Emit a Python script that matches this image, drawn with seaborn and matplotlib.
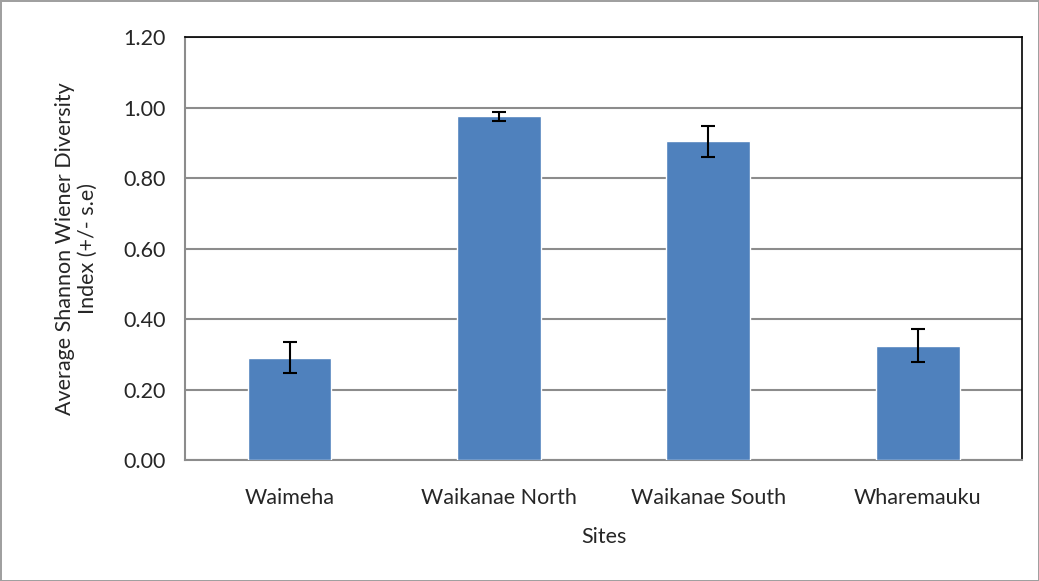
import numpy as np
import pandas as pd
import matplotlib
matplotlib.use("Agg")
import matplotlib.pyplot as plt
import seaborn as sns

# data
sites = ["Waimeha", "Waikanae North", "Waikanae South", "Wharemauku"]
mean_diversity = [0.290, 0.975, 0.905, 0.325]
std_error = [0.044, 0.013, 0.044, 0.047]

df = pd.DataFrame({"Sites": sites, "Diversity": mean_diversity})

sns.set_style("white")
plt.rcParams["font.family"] = ["Lato", "DejaVu Sans"]

fig = plt.figure(figsize=(10.39, 5.81), dpi=100)
ax = fig.add_axes([0.178, 0.208, 0.806, 0.728])

# outer chart-area border
fig.patch.set_edgecolor("#a0a0a0")
fig.patch.set_linewidth(2)

sns.barplot(data=df, x="Sites", y="Diversity", color="#4F81BD", saturation=1,
            width=0.4, errorbar=None, ax=ax, zorder=3)
ax.errorbar(np.arange(len(sites)), mean_diversity, yerr=std_error, fmt="none",
            ecolor="black", elinewidth=1.5, capsize=5, capthick=1.5, zorder=4)

ax.set_ylim(0, 1.2)
ax.set_xlim(-0.5, len(sites) - 0.5)
ax.set_yticks(np.arange(0, 1.21, 0.2))
ax.set_yticklabels([f"{v:.2f}" for v in np.arange(0, 1.21, 0.2)], fontsize=15.5)
ax.yaxis.grid(True, color="#8c8c8c", linewidth=1.5, zorder=0)
ax.set_axisbelow(True)

# category boundaries get the ticks, labels sit in the middle
ax.set_xticks(np.arange(-0.5, len(sites), 1.0))
ax.set_xticklabels([])
ax.set_xticks(np.arange(len(sites)), minor=True)
ax.set_xticklabels(sites, minor=True, fontsize=15.5)
ax.tick_params(axis="x", which="major", direction="out", length=7, color="#8c8c8c", width=1.2)
ax.tick_params(axis="x", which="minor", length=0, pad=20)
ax.tick_params(axis="y", direction="out", length=6, color="#8c8c8c", width=1.2, pad=8)

for side in ["left", "bottom"]:
    ax.spines[side].set_color("#8c8c8c")
    ax.spines[side].set_linewidth(1.5)
for side in ["top", "right"]:
    ax.spines[side].set_color("black")
    ax.spines[side].set_linewidth(1.2)

ax.set_xlabel("Sites", fontsize=15.5, labelpad=14)
ax.set_ylabel("Average Shannon Wiener Diversity\nIndex (+/- s.e)", fontsize=15.5, labelpad=18)

fig.savefig("out.png", dpi=100)
